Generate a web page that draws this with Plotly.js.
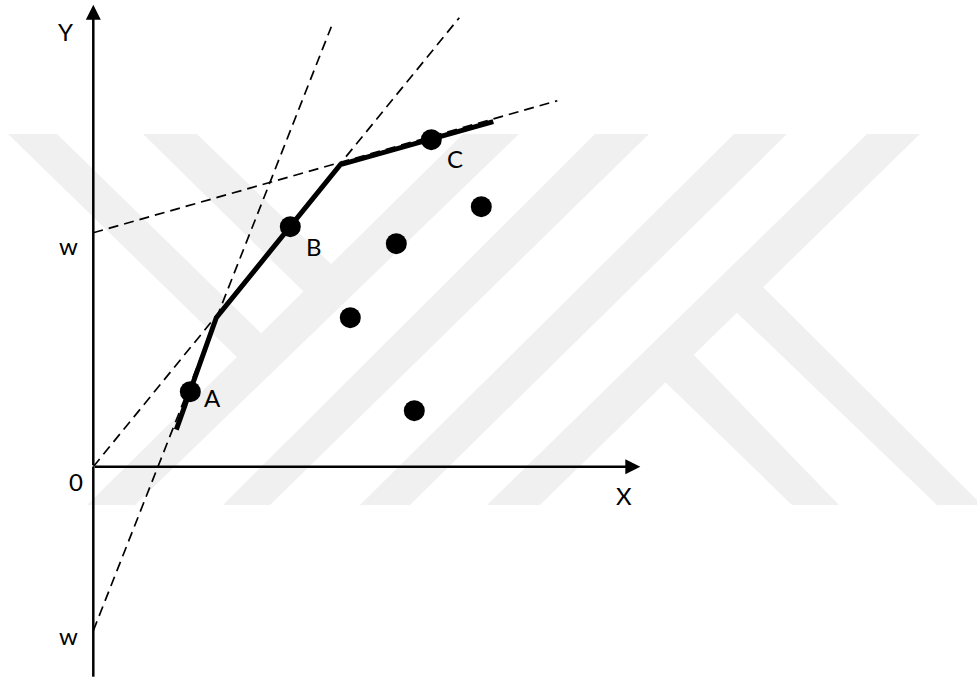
<!DOCTYPE html>
<html>
<head>
<meta charset="utf-8">
<script src="https://cdn.plot.ly/plotly-3.0.1.min.js"></script>
<style>html,body{margin:0;padding:0;background:#fff;}#chart{width:977px;height:680px;}</style>
</head>
<body>
<div id="chart"></div>
<script>
// ---- data (units: arbitrary, origin at the axes' crossing) ----
const hullX = [8.3, 12.3, 24.7, 40.0];          // thick frontier vertices
const hullY = [3.7, 14.9, 30.2, 34.5];
const namedX = [9.7, 19.7, 33.8];               // labelled points A, B, C
const namedY = [7.5, 24.0, 32.7];
const namedLabels = ['A', 'B', 'C'];
const otherX = [25.7, 30.3, 38.8, 32.1];        // unlabelled points
const otherY = [14.9, 22.3, 26.0, 5.6];
const rayOX = [0, 36.6];   const rayOY = [0, 44.9];      // through origin
const rayLowX = [0, 23.8]; const rayLowY = [-16.4, 44.0]; // from lower w
const rayUpX = [0, 46.4];  const rayUpY = [23.4, 36.6];   // from upper w
const yAxisBottom = -21.0, yAxisTop = 46.2, xAxisEnd = 54.7;
const wLow = -16.4, wUp = 23.4;

// ---- decorative watermark (pixel polygons) ----
const W = 977, H = 680;
const wm = [
  [[8,134],[57,134],[266,338],[242,362]],
  [[143,134],[197,134],[336,269],[308,296]],
  [[463,134],[519,134],[135,505],[87,505]],
  [[595,134],[649,134],[270,505],[223,505]],
  [[734,134],[787,134],[410,505],[360,505]],
  [[867,134],[920,134],[540,505],[487,505]],
  [[660,377],[689,350],[839,505],[792,505]],
  [[732,308],[759,283],[982,505],[937,505]]
];
const shapes = wm.map(poly => ({
  type: 'path', xref: 'paper', yref: 'paper', layer: 'below',
  path: poly.map((p, i) => (i ? 'L' : 'M') + (p[0] / W).toFixed(5) + ',' + (1 - p[1] / H).toFixed(5)).join(' ') + ' Z',
  fillcolor: '#f0f0f0', line: {width: 0}
}));

const dashStyle = {color: '#000', width: 1.7, dash: '10px,6px'};
const traces = [
  {x: rayOX, y: rayOY, mode: 'lines', line: dashStyle},
  {x: rayLowX, y: rayLowY, mode: 'lines', line: dashStyle},
  {x: rayUpX, y: rayUpY, mode: 'lines', line: dashStyle},
  {x: [0, 0], y: [yAxisBottom, 0], mode: 'lines', line: {color: '#000', width: 2.5}},
  {x: hullX, y: hullY, mode: 'lines', line: {color: '#000', width: 5}},
  {x: namedX, y: namedY, mode: 'markers', marker: {color: '#000', size: 21}},
  {x: otherX, y: otherY, mode: 'markers', marker: {color: '#000', size: 21}}
];

const font = {family: 'Lato', size: 24, color: '#000'};
const annotations = [
  {x: 0, y: yAxisTop, ax: 0, ay: 0, axref: 'x', ayref: 'y', showarrow: true, text: '',
   arrowhead: 2, arrowsize: 1.2, arrowwidth: 2.5, arrowcolor: '#000'},
  {x: xAxisEnd, y: 0, ax: 0, ay: 0, axref: 'x', ayref: 'y', showarrow: true, text: '',
   arrowhead: 2, arrowsize: 1.2, arrowwidth: 2.5, arrowcolor: '#000'},
  {x: 0, y: yAxisTop, text: 'Y', showarrow: false, xshift: -28, yshift: -27, font: font},
  {x: xAxisEnd, y: 0, text: 'X', showarrow: false, xshift: -16, yshift: -29, font: font},
  {x: 0, y: 0, text: '0', showarrow: false, xshift: -17, yshift: -15, font: font},
  {x: 0, y: wUp, text: 'w', showarrow: false, xshift: -25, yshift: -13, font: font},
  {x: 0, y: wLow, text: 'w', showarrow: false, xshift: -25, yshift: -5, font: font}
];
const labelShift = [[22, -6], [24, -20], [24, -19]];
namedLabels.forEach((t, i) => annotations.push({
  x: namedX[i], y: namedY[i], text: t, showarrow: false,
  xshift: labelShift[i][0], yshift: labelShift[i][1], font: font
}));

const layout = {
  width: W, height: H, margin: {l: 0, r: 0, t: 0, b: 0},
  paper_bgcolor: '#fff', plot_bgcolor: '#fff', showlegend: false,
  xaxis: {range: [-9.33, 88.37], visible: false, fixedrange: true},
  yaxis: {range: [-21.33, 46.67], visible: false, fixedrange: true},
  shapes: shapes, annotations: annotations
};
Plotly.newPlot('chart', traces, layout, {displayModeBar: false, staticPlot: true});
</script>
</body>
</html>
